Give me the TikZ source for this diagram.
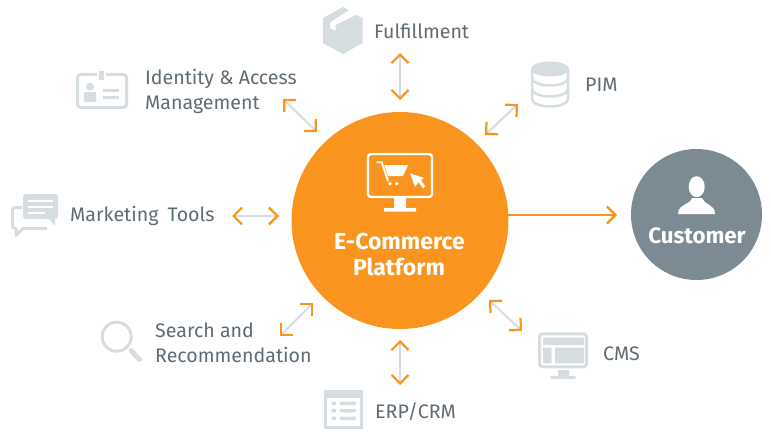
\documentclass[tikz,border=0pt]{standalone}
\usepackage{fontspec}
\setmainfont{Fira Sans}
\usetikzlibrary{arrows.meta}
\definecolor{hubcolor}{HTML}{F9951F}
\definecolor{iconcolor}{HTML}{D6DDE1}
\definecolor{labelcolor}{HTML}{5F6B73}
\definecolor{customercolor}{HTML}{7C8B93}
\tikzset{
  label text/.style={text=labelcolor, font=\fontsize{19.6}{25}\selectfont, align=left, anchor=west, inner sep=0pt},
  hub text/.style={text=white, font=\fontsize{23}{25}\selectfont\bfseries, inner sep=0pt},
  link/.style={draw=iconcolor, line width=2pt, {Straight Barb[color=hubcolor, length=8.5pt, width=17pt, line width=2.2pt]}-{Straight Barb[color=hubcolor, length=8.5pt, width=17pt, line width=2.2pt]}},
  icon line/.style={draw=iconcolor, line width=3pt},
}
\begin{document}
\begin{tikzpicture}[x=1pt, y=-1pt]
        \useasboundingbox (0,0) rectangle (771,436);

        % Draw the platform and the customer
        \node[circle, fill=hubcolor, inner sep=0pt, minimum size=217pt] (hub) at (400,220.5) {};
        \node[circle, fill=customercolor, inner sep=0pt, minimum size=131pt] (customer) at (696.5,214.5) {};
        \node[hub text] (hubone) at (399.5,242) {E-Commerce};
        \node[hub text] (hubtwo) at (399,267) {Platform};
        \node[hub text, font=\fontsize{22.3}{25}\selectfont\bfseries] (customertext) at (697,236) {Customer};

        % Add the labels
        \node[label text] (fulfillment) at (374,31) {Fulfillment};
        \node[label text] (pim) at (585,85) {PIM};
        \node[label text] (identity) at (145,91.5) {Identity \& Access\\Management};
        \node[label text] (marketing) at (70,215.5) {Marketing\hspace{4pt} Tools};
        \node[label text] (search) at (155,343) {Search and\\Recommendation};
        \node[label text] (erp) at (375,412) {ERP/CRM};
        \node[label text] (cms) at (603,354) {CMS};

        % End points of the arrows
        \coordinate (fulA) at (400,53);   \coordinate (fulB) at (400,100);
        \coordinate (idA)  at (283,99);   \coordinate (idB)  at (317,132);
        \coordinate (pimA) at (518,104);  \coordinate (pimB) at (485,135);
        \coordinate (mktA) at (232,216);  \coordinate (mktB) at (279,216);
        \coordinate (seaA) at (280,336);  \coordinate (seaB) at (313,303);
        \coordinate (erpA) at (400,340);  \coordinate (erpB) at (400,385);
        \coordinate (cmsA) at (489,300);  \coordinate (cmsB) at (522,331);
        \coordinate (hubout) at (508,215);
        \coordinate (custin) at (617,215);

        % Draw the double arrows
        \foreach \a/\b in {fulA/fulB,idA/idB,pimA/pimB,mktA/mktB,seaA/seaB,erpA/erpB,cmsA/cmsB}
        {
          \draw[link] (\a) -- (\b);
        }
        \draw[hubcolor, line width=1.6pt, -{Straight Barb[length=8.5pt, width=17pt, line width=2.2pt]}] (hubout) -- (custin);

        % Draw the monitor with the cart
        \draw[white, line width=2.4pt, rounded corners=3pt] (368,154) rectangle (432,197);
        \fill[white] (394,198) rectangle (406,208) (384,208) rectangle (416,211.7);
        \draw[white, line width=1.8pt] (376.7,162.3) -- (381.7,162.3) -- (388,181);
        \fill[white] (384,165) -- (408,165) -- (403,176) -- (388,176) -- cycle;
        \fill[white] (390,183.7) circle (1.8) (396.7,183.7) circle (1.8);
        \fill[white] (410,173.3) -- (415,187) -- (418.5,182) -- (423,188.5) -- (425,186) -- (421,180) -- (424,178) -- cycle;

        % Draw the person
        \fill[white] (696.7,186.7) ellipse (8 and 10.5);
        \fill[white] (678,214) .. controls (678,204) and (690,205) .. (692,198) -- (702,198) .. controls (704,205) and (715,204) .. (715,214) -- cycle;

        % Draw the box
        \fill[iconcolor] (343,7) -- (362.5,18) -- (362.5,43) -- (343,54) -- (323,43) -- (323,18) -- cycle;
        \fill[white] (350,9.5) -- (330,22.7) -- (330,28.3) -- (335.7,30.7) -- (335.7,25) -- (356.7,14.5) -- cycle;

        % Draw the database
        \draw[iconcolor, line width=2.5pt] (532,69) -- (532,99) arc[start angle=180, end angle=0, x radius=18, y radius=7.5] -- (568,69);
        \draw[iconcolor, line width=2.5pt] (532,78) arc[start angle=180, end angle=0, x radius=18, y radius=7.5];
        \draw[iconcolor, line width=2.5pt] (532,89) arc[start angle=180, end angle=0, x radius=18, y radius=7.5];
        \fill[iconcolor] (550,69) ellipse (19 and 7.5);

        % Draw the badge
        \draw[icon line, rounded corners=3pt] (77.5,74.5) rectangle (126.5,107.5);
        \fill[white] (96.5,70) rectangle (106,80);
        \fill[iconcolor] (98.5,71) rectangle (104,80);
        \fill[iconcolor] (90,86.7) circle (4);
        \fill[iconcolor, rounded corners=1pt] (84,102) -- (84,92) -- (96,92) -- (96,102) -- cycle;
        \draw[iconcolor, line width=3pt] (103,90) -- (119,90) (103,97.3) -- (119,97.3);

        % Draw the speech bubbles
        \draw[icon line, line join=round] (22,207.5) -- (15,207.5) .. controls (13,207.5) and (12.5,208.5) .. (12.5,210) -- (12.5,226) .. controls (12.5,227.5) and (13,228.5) .. (16,228.5) -- (16,235.5) -- (23,228.5) -- (47,228.5);
        \fill[iconcolor, rounded corners=3pt] (23,194) rectangle (58,219);
        \fill[iconcolor] (48,218) -- (55,226) -- (55,218) -- cycle;
        \draw[white, line width=2pt] (28,200.7) -- (53,200.7) (28,206.7) -- (53,206.7) (28,212.7) -- (45,212.7);

        % Draw the magnifier
        \draw[icon line] (116.7,336.7) circle (14.5);
        \draw[iconcolor, line width=5pt, line cap=round] (131,350.5) -- (139.5,359.5);

        % Draw the list
        \fill[iconcolor] (324,390) rectangle (363.3,429);
        \fill[white] (326.7,398) rectangle (360,426);
        \foreach \y in {403.3,410.7,418.3}
        {
          \fill[iconcolor] (331.7,\y-1.7) rectangle (336,\y+1.7) (340,\y-1.7) rectangle (355.7,\y+1.7);
        }

        % Draw the screen
        \draw[icon line, rounded corners=3pt] (539.5,333.8) rectangle (586.5,366.8);
        \fill[iconcolor] (543,337.7) rectangle (584,345) (543,347.7) rectangle (551.7,363.3) (555,347.7) rectangle (584,363.3);
        \fill[iconcolor] (558,370) rectangle (569,376) (550.7,376) rectangle (575.7,379);
      \end{tikzpicture}
\end{document}
